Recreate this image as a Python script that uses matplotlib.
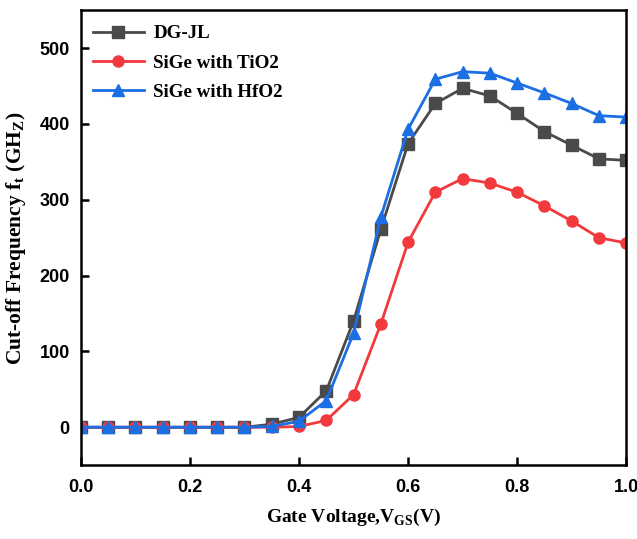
import numpy as np
import matplotlib.pyplot as plt

# 栅压 (V)
vgs = [0.0, 0.05, 0.1, 0.15, 0.2, 0.25, 0.3, 0.35, 0.4, 0.45, 0.5,
       0.55, 0.6, 0.65, 0.7, 0.75, 0.8, 0.85, 0.9, 0.95, 1.0]

# 截止频率 (GHz)
ft_dgjl = [0, 0, 0, 0, 0, 0, 0, 4, 13, 48, 140,
           261, 374, 427, 447, 437, 414, 390, 372, 354, 352]
ft_tio2 = [0, 0, 0, 0, 0, 0, 0, 0, 1, 9, 43,
           136, 244, 310, 328, 322, 310, 292, 272, 250, 243]
ft_hfo2 = [0, 0, 0, 0, 0, 0, 0, 1, 8, 35, 124,
           277, 393, 459, 469, 467, 454, 441, 427, 411, 409]

labels = ['DG-JL', 'SiGe with TiO2', 'SiGe with HfO2']
colors = ['#4a4a4a', '#f23a3e', '#1c6fe3']
markers = ['s', 'o', '^']

serif = ['Liberation Serif', 'DejaVu Serif']
sans = ['Liberation Sans', 'DejaVu Sans']

fig = plt.figure(figsize=(6.37, 5.39), dpi=100)
ax = fig.add_axes([0.127, 0.137, 0.856, 0.844])

for y, lab, c, m in zip([ft_dgjl, ft_tio2, ft_hfo2], labels, colors, markers):
    ax.plot(vgs, y, color=c, marker=m, markersize=8, linewidth=2, label=lab)

ax.set_xlim(0, 1.0)
ax.set_ylim(-50, 550)
ax.set_xticks([0.0, 0.2, 0.4, 0.6, 0.8, 1.0])
ax.set_yticks([0, 100, 200, 300, 400, 500])

for s in ax.spines.values():
    s.set_linewidth(1.8)
ax.tick_params(direction='in', length=6, width=1.8, labelsize=13)
ax.tick_params(axis='x', pad=10)
ax.tick_params(axis='y', pad=8)
for t in ax.get_xticklabels() + ax.get_yticklabels():
    t.set_family(sans)
    t.set_fontweight('bold')

ax.set_xlabel(r'Gate Voltage,V$_{\mathregular{GS}}$(V)', family=serif,
              fontweight='bold', fontsize=14, labelpad=8)
ax.set_ylabel(r'Cut-off Frequency f$_{\mathregular{t}}$ (GH$_{\mathregular{Z}}$)',
              family=serif, fontweight='bold', fontsize=15.5, labelpad=8)

leg = ax.legend(loc='upper left', bbox_to_anchor=(-0.01, 1.005), frameon=False,
                handlelength=2.7, handletextpad=0.5,
                prop={'family': serif, 'weight': 'bold', 'size': 13.7},
                labelspacing=0.62)

fig.savefig('out.png', dpi=100)
